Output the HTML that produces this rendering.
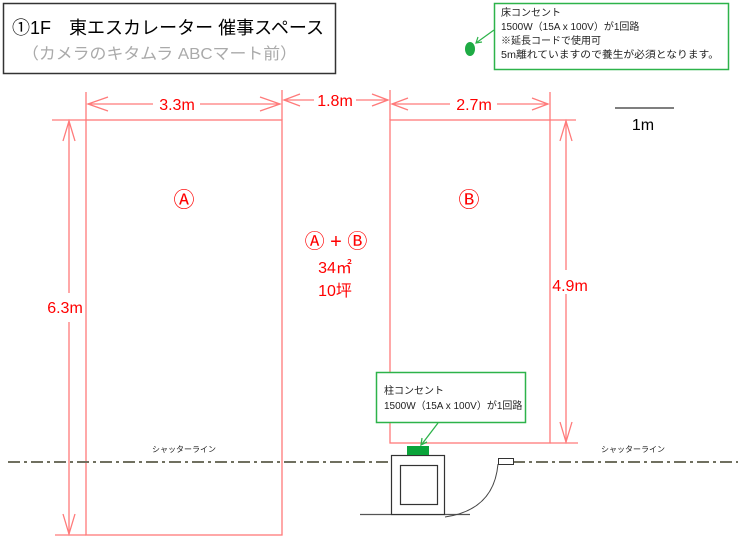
<!DOCTYPE html>
<html><head><meta charset="utf-8"><style>
html,body{margin:0;padding:0;background:#fff;}
svg{display:block;}
text{font-family:"Liberation Sans","Noto Sans CJK JP",sans-serif;}
</style></head><body>
<svg width="738" height="556" viewBox="0 0 738 556" xmlns="http://www.w3.org/2000/svg">
<!-- title -->
<rect x="3.5" y="3.5" width="332" height="70" fill="#fff" stroke="#333" stroke-width="1.5"/>
<text x="12" y="34" font-size="18" fill="#000" textLength="312" lengthAdjust="spacingAndGlyphs">①1F　東エスカレーター 催事スペース</text>
<text x="22" y="59" font-size="16" fill="#aaa" textLength="275" lengthAdjust="spacingAndGlyphs">（カメラのキタムラ ABCマート前）</text>

<!-- floor outlet callout -->
<rect x="494.5" y="3.5" width="234" height="66" fill="#fff" stroke="#2db34a" stroke-width="1.5"/>
<text x="501" y="16" font-size="10" fill="#222">床コンセント</text>
<text x="501" y="30" font-size="10" fill="#222">1500W（15A x 100V）が1回路</text>
<text x="501" y="44" font-size="10" fill="#222">※延長コードで使用可</text>
<text x="501" y="58" font-size="10" fill="#222" textLength="218" lengthAdjust="spacingAndGlyphs">5m離れていますので養生が必須となります。</text>
<line x1="494" y1="30" x2="476" y2="43" stroke="#2db34a" stroke-width="1.2"/>
<polyline points="478,37 476,43 482,42" fill="none" stroke="#2db34a" stroke-width="1.2"/>
<ellipse cx="470" cy="49" rx="5" ry="7" fill="#1eab44"/>

<!-- scale -->
<line x1="615" y1="108" x2="674" y2="108" stroke="#333" stroke-width="1.2"/>
<text x="643" y="130" font-size="16" fill="#000" text-anchor="middle">1m</text>

<g stroke="#ff7a7a" stroke-width="1.3" fill="none">
<rect x="86" y="120" width="196" height="415"/>
<line x1="86" y1="92" x2="86" y2="120"/>
<line x1="282" y1="90" x2="282" y2="120"/>
<line x1="52" y1="120" x2="86" y2="120"/>
<line x1="55" y1="535" x2="86" y2="535"/>
<line x1="88" y1="104" x2="153" y2="104"/><line x1="200" y1="104" x2="280" y2="104"/>
<polyline points="108,97 88,104 108,111"/><polyline points="260,97 280,104 260,111"/>
<line x1="69" y1="121" x2="69" y2="293"/><line x1="69" y1="322" x2="69" y2="534"/>
<polyline points="63,141 69,121 75,141"/><polyline points="63,514 69,534 75,514"/>
<line x1="284" y1="100" x2="314" y2="100"/><line x1="356" y1="100" x2="388" y2="100"/>
<polyline points="300,94 284,100 300,106"/><polyline points="372,94 388,100 372,106"/>
<rect x="390" y="120" width="160" height="323"/>
<line x1="390" y1="90" x2="390" y2="120"/>
<line x1="550" y1="92" x2="550" y2="120"/>
<line x1="550" y1="120" x2="576" y2="120"/>
<line x1="550" y1="443" x2="578" y2="443"/>
<line x1="392" y1="104" x2="450" y2="104"/><line x1="497" y1="104" x2="548" y2="104"/>
<polyline points="408,98 392,104 408,110"/><polyline points="532,98 548,104 532,110"/>
<line x1="566" y1="121" x2="566" y2="270"/><line x1="566" y1="294" x2="566" y2="442"/>
<polyline points="560,141 566,121 572,141"/><polyline points="560,422 566,442 572,422"/>
</g>
<g fill="#f00" font-size="16" text-anchor="middle">
<text x="177" y="110">3.3m</text>
<text x="335" y="106">1.8m</text>
<text x="474" y="110">2.7m</text>
<text x="65" y="313">6.3m</text>
<text x="570" y="291">4.9m</text>
<text x="184" y="207" font-size="21">Ⓐ</text>
<text x="469" y="207" font-size="21">Ⓑ</text>
<text x="336" y="248" font-size="20">Ⓐ + Ⓑ</text>
<text x="335" y="273">34㎡</text>
<text x="335" y="296">10坪</text>
</g>

<line x1="8" y1="462" x2="391" y2="462" stroke="#707060" stroke-width="2" stroke-dasharray="12,4,3,4"/>
<line x1="513" y1="462" x2="738" y2="462" stroke="#707060" stroke-width="2" stroke-dasharray="12,4,3,4"/>
<text x="184" y="452" font-size="8" fill="#222" text-anchor="middle">シャッターライン</text>
<text x="633" y="452" font-size="8" fill="#222" text-anchor="middle">シャッターライン</text>

<line x1="360" y1="514.5" x2="470" y2="514.5" stroke="#555" stroke-width="1.3"/>
<rect x="391.5" y="455.5" width="53" height="59" fill="#fff" stroke="#333" stroke-width="1.2"/>
<rect x="400.5" y="465.5" width="37" height="39" fill="#fff" stroke="#333" stroke-width="1.2"/>
<rect x="407" y="446" width="22" height="9" fill="#0aa43a"/>
<rect x="498.5" y="458.5" width="15" height="6" fill="#fff" stroke="#333" stroke-width="1"/>
<path d="M498,464 Q494,510 445,517" fill="none" stroke="#444" stroke-width="1"/>

<rect x="376.5" y="372.5" width="149" height="50" fill="#fff" stroke="#2db34a" stroke-width="1.5"/>
<text x="384" y="394" font-size="10" fill="#222">柱コンセント</text>
<text x="384" y="409" font-size="10" fill="#222">1500W（15A x 100V）が1回路</text>
<line x1="438" y1="423" x2="422" y2="444" stroke="#2db34a" stroke-width="1.3"/>
<polyline points="422,438 421,445 427,442" fill="none" stroke="#2db34a" stroke-width="1.3"/>
</svg>
</body></html>
